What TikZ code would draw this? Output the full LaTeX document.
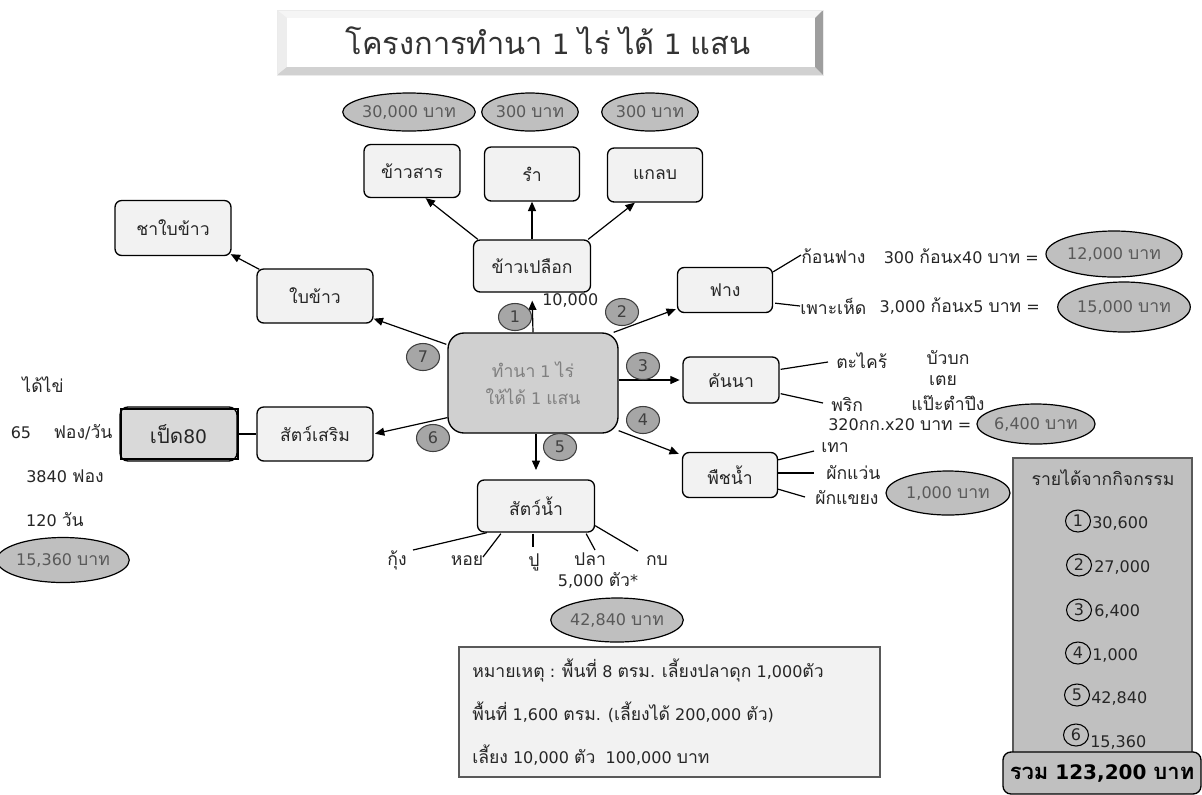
\documentclass[tikz,border=0pt]{standalone}
\usepackage{fontspec}
\setmainfont{DejaVu Sans}
\newfontfamily\thaifont[Script=Thai, Scale=1.1]{Loma}
\usetikzlibrary{shapes.geometric,arrows.meta,calc}

% Thai letters in Loma, everything else in DejaVu Sans
\XeTeXinterchartokenstate=1
\newXeTeXintercharclass\thaiclass
\makeatletter
\@tempcnta="0E00
\loop\ifnum\@tempcnta<"0E80
  \XeTeXcharclass\@tempcnta=\thaiclass
  \advance\@tempcnta by 1
\repeat
\makeatother
\XeTeXinterchartoks 0 \thaiclass = {\thaifont}
\XeTeXinterchartoks 4095 \thaiclass = {\thaifont}
\XeTeXinterchartoks \thaiclass 0 = {\rmfamily}
\XeTeXinterchartoks \thaiclass 4095 = {\rmfamily}

\definecolor{boxfill}{HTML}{F2F2F2}
\definecolor{mainfill}{HTML}{D0D0D0}
\definecolor{moneyfill}{HTML}{BFBFBF}
\definecolor{badgefill}{HTML}{A6A6A6}
\definecolor{panelfill}{HTML}{C0C0C0}
\definecolor{duckfill}{HTML}{D9D9D9}
\definecolor{inktext}{HTML}{262626}
\definecolor{greytext}{HTML}{595959}
\definecolor{maintext}{HTML}{808080}

\tikzset{
  boxsize/.style 2 args={minimum width=#1*0.75pt, minimum height=#2*0.75pt},
  itembox/.style={draw, line width=1pt, rounded corners=5pt, fill=boxfill, text=inktext, inner sep=0pt},
  money/.style={ellipse, draw, line width=0.9pt, fill=moneyfill, text=greytext, inner sep=0pt},
  badge/.style={ellipse, draw=black!75, line width=0.8pt, fill=badgefill, text=black!75, boxsize={33}{27}, inner sep=0pt},
  tally/.style={ellipse, draw, line width=0.8pt, fill=panelfill, text=inktext, boxsize={25}{22}, inner sep=0pt},
  lbl/.style={inner sep=0pt, text=inktext},
  link/.style={-{Triangle[length=7pt,width=6pt]}, line width=0.9pt},
  twig/.style={line width=0.9pt},
}

\begin{document}
\begin{tikzpicture}[x=0.75pt, y=-0.75pt, font=\fontsize{12}{14}\selectfont]
  \useasboundingbox (0,0) rectangle (1202,794);

  % Title plate
  \fill[black!6] (277,10) rectangle (823,75);
  \fill[black!4] (277,10) -- (823,10) -- (815,18) -- (287,18) -- cycle;
  \fill[black!7] (277,10) -- (287,18) -- (287,67) -- (277,75) -- cycle;
  \fill[black!18] (277,75) -- (287,67) -- (815,67) -- (823,75) -- cycle;
  \fill[black!38] (823,10) -- (815,18) -- (815,67) -- (823,75) -- cycle;
  \fill[white] (287,18) rectangle (815,67);
  \draw[black!8, line width=0.6pt] (277,10) rectangle (823,75);
  \node[font=\fontsize{21}{24}\selectfont, text=black!80] (title) at (548,41) {โครงการทำนา 1 ไร่ ได้ 1 แสน};

  % Hub
  \node[itembox, rounded corners=12pt, fill=mainfill, text=maintext, boxsize={170}{100}, align=center] (main) at (533,383) {ทำนา 1 ไร่\\[6pt]ให้ได้ 1 แสน};

  % Paddy and its products
  \node[itembox, boxsize={117}{52}] (paddy) at (532,266) {ข้าวเปลือก};
  \node[itembox, boxsize={96}{53}] (milled) at (412,171) {ข้าวสาร};
  \node[itembox, boxsize={95}{54}] (bran) at (532,174) {รำ};
  \node[itembox, boxsize={95}{54}] (husk) at (655,175) {แกลบ};
  \node[money, boxsize={108}{38}] (milledval) at (409,112) {30,000 บาท};
  \node[money, boxsize={76}{38}] (branval) at (530,112) {300 บาท};
  \node[money, boxsize={86}{38}] (huskval) at (650,112) {300 บาท};
  \node[lbl, anchor=west] (paddyval) at (542,300) {10,000};
  \draw[link, shorten >=6pt] (main.north) -- (paddy.south);
  \draw[link] ($(paddy.north west)+(5,0)$) -- ($(milled.south east)+(-35,0)$);
  \draw[link] (paddy.north) -- (bran.south);
  \draw[link] ($(paddy.north east)+(-3,0)$) -- ($(husk.south west)+(28,0)$);

  % Rice leaves
  \node[itembox, boxsize={116}{54}] (leaf) at (315,296) {ใบข้าว};
  \node[itembox, boxsize={116}{55}] (tea) at (173,228) {ชาใบข้าว};
  \draw[link] ($(main.north west)+(-1,12)$) -- ($(leaf.south east)+(0,-5)$);
  \draw[link] ($(leaf.north west)+(3,1)$) -- ($(tea.south east)+(-1,-2)$);

  % Straw
  \node[itembox, boxsize={95}{45}] (straw) at (725,290) {ฟาง};
  \draw[link] ($(main.north east)+(-5,0)$) -- ($(straw.south west)+(-1,-4)$);
  \node[lbl, anchor=west] (block) at (801,256) {ก้อนฟาง};
  \node[lbl, anchor=east] (blockcalc) at (1039,256) {300 ก้อนx40 บาท =};
  \node[money, boxsize={136}{46}] (blockval) at (1114,254) {12,000 บาท};
  \node[lbl, anchor=west] (mush) at (800,306) {เพาะเห็ด};
  \node[lbl, anchor=east] (mushcalc) at (1040,306) {3,000 ก้อนx5 บาท =};
  \node[money, boxsize={128}{50}] (mushval) at (1124,307) {15,000 บาท};
  \draw[twig] ($(straw.north east)+(0,5)$) -- ($(block.west)+(0,-1)$);
  \draw[twig] ($(straw.south east)+(2,-10)$) -- (mush.west);

  % Dike
  \node[itembox, boxsize={96}{46}] (dike) at (731,380) {คันนา};
  \draw[link, shorten >=2pt] (main.east |- dike.west) -- (dike.west);
  \node[lbl, anchor=west] (lemon) at (836,361) {ตะไคร้};
  \node[lbl, anchor=west] (chili) at (831,404) {พริก};
  \node[lbl] (gotu) at (948,357) {บัวบก};
  \node[lbl] (pandan) at (943,381) {เตย};
  \node[lbl] (peka) at (948,403) {แป๊ะตำปึง};
  \node[lbl, anchor=west] (dikecalc) at (828,425) {320กก.x20 บาท =};
  \node[money, boxsize={110}{40}] (dikeval) at (1036,424) {6,400 บาท};
  \draw[twig] ($(dike.north east)+(1,13)$) -- ($(lemon.west)+(-8,1)$);
  \draw[twig] ($(dike.south east)+(1,-10)$) -- ($(chili.west)+(-8,-1)$);

  % Water plants
  \node[itembox, boxsize={95}{45}] (weed) at (730,475) {พืชน้ำ};
  \draw[link] ($(main.south east)+(0,-3)$) -- ($(weed.north west)+(-3,2)$);
  \node[lbl, anchor=west] (wolffia) at (821,448) {เทา};
  \node[lbl, anchor=west] (clover) at (826,472) {ผักแว่น};
  \node[lbl, anchor=west] (limno) at (815,497) {ผักแขยง};
  \node[money, boxsize={124}{44}] (weedval) at (948,493) {1,000 บาท};
  \draw[twig] ($(weed.north east)+(0,8)$) -- ($(wolffia.west)+(-7,3)$);
  \draw[twig] ($(weed.east)+(0,-2)$) -- ($(clover.west)+(-12,1)$);
  \draw[twig] ($(weed.south east)+(0,-9)$) -- ($(limno.west)+(-10,0)$);

  % Aquatic animals
  \node[itembox, boxsize={117}{52}] (aqua) at (536,506) {สัตว์น้ำ};
  \draw[link, shorten >=7pt] (main.south -| aqua.north) -- (aqua.north);
  \node[lbl] (shrimp) at (397,560) {กุ้ง};
  \node[lbl] (shell) at (467,561) {หอย};
  \node[lbl] (crab) at (534,562) {ปู};
  \node[lbl] (fish) at (590,559) {ปลา};
  \node[lbl] (frog) at (657,561) {กบ};
  \node[lbl] (fishcount) at (598,580) {5,000 ตัว*};
  \node[money, boxsize={126}{44}] (aquaval) at (617,620) {42,840 บาท};
  \draw[twig] ($(aqua.south west)+(10,0)$) -- ($(shrimp)+(16,-10)$);
  \draw[twig] ($(aqua.south west)+(24,1)$) -- ($(shell)+(16,-4)$);
  \draw[twig] ($(aqua.south)+(-3,1)$) -- ($(crab)+(-1,-15)$);
  \draw[twig] ($(aqua.south east)+(-9,1)$) -- ($(fish)+(5,-9)$);
  \draw[twig] ($(aqua.south east)+(0,-7)$) -- ($(frog)+(-19,-10)$);

  % Note
  \node[draw=black!65, line width=1pt, fill=boxfill, boxsize={421}{130}, inner sep=0pt] (note) at (669.5,712) {};
  \begin{scope}[font=\fontsize{12}{14}\selectfont]
    \node[lbl, anchor=west] (note1) at (472,670) {หมายเหตุ : พื้นที่ 8 ตรม. เลี้ยงปลาดุก 1,000ตัว};
    \node[lbl, anchor=west] (note2) at (472,712) {พื้นที่ 1,600 ตรม. (เลี้ยงได้ 200,000 ตัว)};
    \node[lbl, anchor=west] (note3) at (472,755) {เลี้ยง 10,000 ตัว\ \ 100,000 บาท};
  \end{scope}

  % Extra animals
  \node[itembox, boxsize={116}{54}] (extra) at (315,434) {สัตว์เสริม};
  \draw[link, shorten >=1pt] (main.202) -- (extra.east);
  \node[itembox, fill=duckfill, rounded corners=6pt, boxsize={117}{54}, font=\fontsize{14}{16}\selectfont] (duck) at (178.5,434) {เป็ด80};
  \draw[line width=1.3pt] ($(duck.north west)+(2,3)$) rectangle ($(duck.south east)+(0,-3)$);
  \draw[twig] (duck.east) -- (extra.west);
  \node[lbl] (eggs) at (43,385) {ได้ไข่};
  \node[lbl] (perday) at (21,433) {65};
  \node[lbl] (perdayunit) at (83,432) {ฟอง/วัน};
  \node[lbl] (eggtotal) at (65,476) {3840 ฟอง};
  \node[lbl] (days) at (55,520) {120 วัน};
  \node[money, boxsize={120}{45}] (duckval) at (63,560) {15,360 บาท};

  % Numbered badges
  \node[badge] (b1) at (515,317) {1};
  \node[badge] (b2) at (622,312) {2};
  \node[badge] (b3) at (643,366) {3};
  \node[badge] (b4) at (643,420) {4};
  \node[badge] (b5) at (560,447) {5};
  \node[badge] (b6) at (433,438) {6};
  \node[badge] (b7) at (423,357) {7};

  % Income panel
  \node[draw=black!65, line width=1pt, fill=panelfill, boxsize={179}{300}, inner sep=0pt] (panel) at (1102.5,608) {};
  \node[lbl] (paneltitle) at (1103,478) {รายได้จากกิจกรรม};
  \foreach \n/\cx/\cy/\vx/\vy/\val in {1/1078/521/1092/523/{30,600}, 2/1079/565/1094/567/{27,000},
      3/1079/610/1094/611/{6,400}, 4/1078/653/1092/655/{1,000}, 5/1077/695/1091/698/{42,840},
      6/1076/735/1090/742/{15,360}}{
    \node[tally] (t\n) at (\cx,\cy) {\n};
    \node[lbl, anchor=west] (v\n) at (\vx,\vy) {\val};
  }
  \node[draw, line width=1pt, rounded corners=6pt, fill=panelfill, boxsize={198}{42}, inner sep=0pt,
    font=\fontsize{15}{17}\selectfont\bfseries] (total) at (1102,773) {รวม 123,200 บาท};
\end{tikzpicture}
\end{document}
